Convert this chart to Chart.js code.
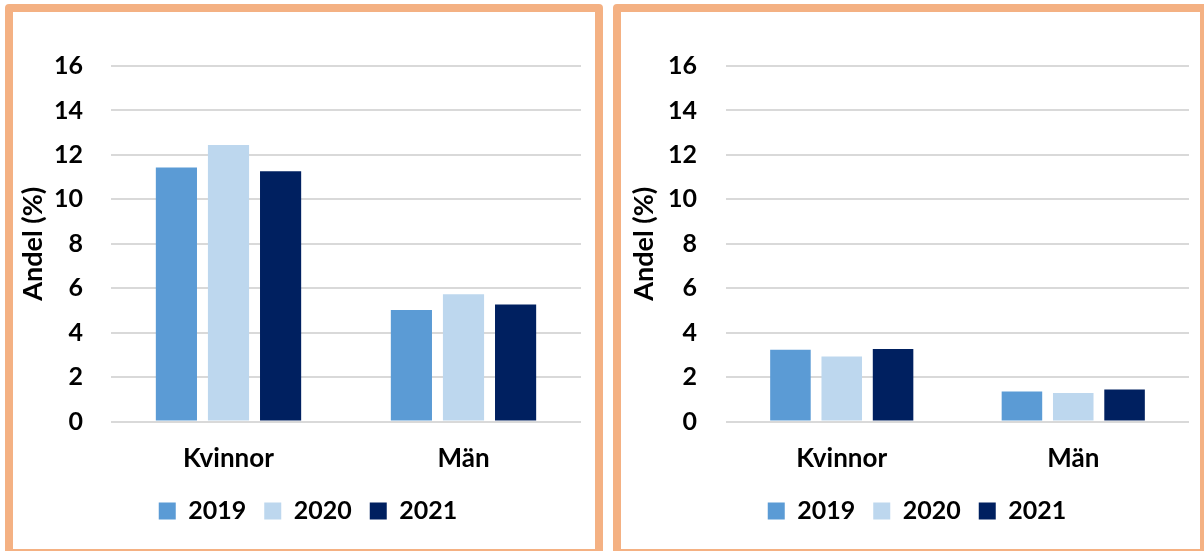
<!DOCTYPE html>
<html>
<head>
<meta charset="utf-8">
<title>Andel (%) 2019-2021</title>
<script src="https://cdn.jsdelivr.net/npm/chart.js"></script>
<style>
    html, body { margin: 0; padding: 0; background: #fff; }
    body { position: relative; width: 1204px; height: 551px; overflow: hidden; }
    .panel {
        position: absolute;
        top: 4px;
        height: 537px;
        border: 8px solid #F4B183;
        border-radius: 4px;
        background: #fff;
    }
    #panelLeft { left: 5px; width: 582px; }
    #panelRight { left: 613px; width: 579px; }
    canvas { display: block; }
</style>
</head>
<body>
<div class="panel" id="panelLeft"><canvas id="chartLeft" width="582" height="537"></canvas></div>
<div class="panel" id="panelRight"><canvas id="chartRight" width="579" height="537"></canvas></div>
<script>
    const categories = ['Kvinnor', 'Män'];
    const years = ['2019', '2020', '2021'];
    const yearColors = ['#5B9BD5', '#BDD7EE', '#002060'];
    const yTicks = [0, 2, 4, 6, 8, 10, 12, 14, 16];

    // left chart
    const left2019 = [11.43, 5.02];
    const left2020 = [12.45, 5.73];
    const left2021 = [11.26, 5.27];

    // right chart
    const right2019 = [3.23, 1.35];
    const right2020 = [2.93, 1.28];
    const right2021 = [3.26, 1.44];

    Chart.defaults.font.family = 'Lato';
    Chart.defaults.font.weight = 'bold';
    Chart.defaults.color = '#000';

    function makeChart(id, series, opts) {
        const ctx = document.getElementById(id).getContext('2d');
        return new Chart(ctx, {
            type: 'bar',
            data: {
                labels: categories,
                datasets: years.map((year, i) => ({
                    label: year,
                    data: series[i],
                    backgroundColor: yearColors[i],
                    borderWidth: 0,
                    categoryPercentage: 0.665,
                    barPercentage: 0.79
                }))
            },
            options: {
                responsive: false,
                animation: false,
                layout: {
                    padding: { top: 54, left: opts.padLeft, right: opts.padRight, bottom: 15.5 }
                },
                scales: {
                    x: {
                        grid: { display: false, drawTicks: false },
                        border: { display: false },
                        ticks: { padding: 22, font: { size: 26, weight: 'bold' } },
                        afterFit: (scale) => { scale.height = 59; }
                    },
                    y: {
                        min: 0,
                        max: 16,
                        afterBuildTicks: (scale) => {
                            scale.ticks = yTicks.map((v) => ({ value: v }));
                        },
                        grid: { color: '#D9D9D9', lineWidth: 2, drawTicks: false },
                        border: { display: false },
                        ticks: { padding: opts.tickPad, font: { size: 25, weight: 'bold' } },
                        title: {
                            display: true,
                            text: 'Andel (%)',
                            font: { size: 27, weight: 'bold' },
                            padding: { top: opts.titleShift, bottom: 0 }
                        },
                        afterFit: (scale) => { scale.width = opts.axisWidth; }
                    }
                },
                plugins: {
                    legend: {
                        position: 'bottom',
                        labels: {
                            boxWidth: 17,
                            boxHeight: 17,
                            padding: 18,
                            font: { size: 25, weight: 'bold' }
                        }
                    },
                    tooltip: { enabled: false }
                }
            }
        });
    }

    makeChart('chartLeft', [left2019, left2020, left2021], {
        padLeft: 22, padRight: 14, tickPad: 28, axisWidth: 76, titleShift: -18
    });
    makeChart('chartRight', [right2019, right2020, right2021], {
        padLeft: 24, padRight: 11, tickPad: 29, axisWidth: 81, titleShift: -17
    });
</script>
</body>
</html>
